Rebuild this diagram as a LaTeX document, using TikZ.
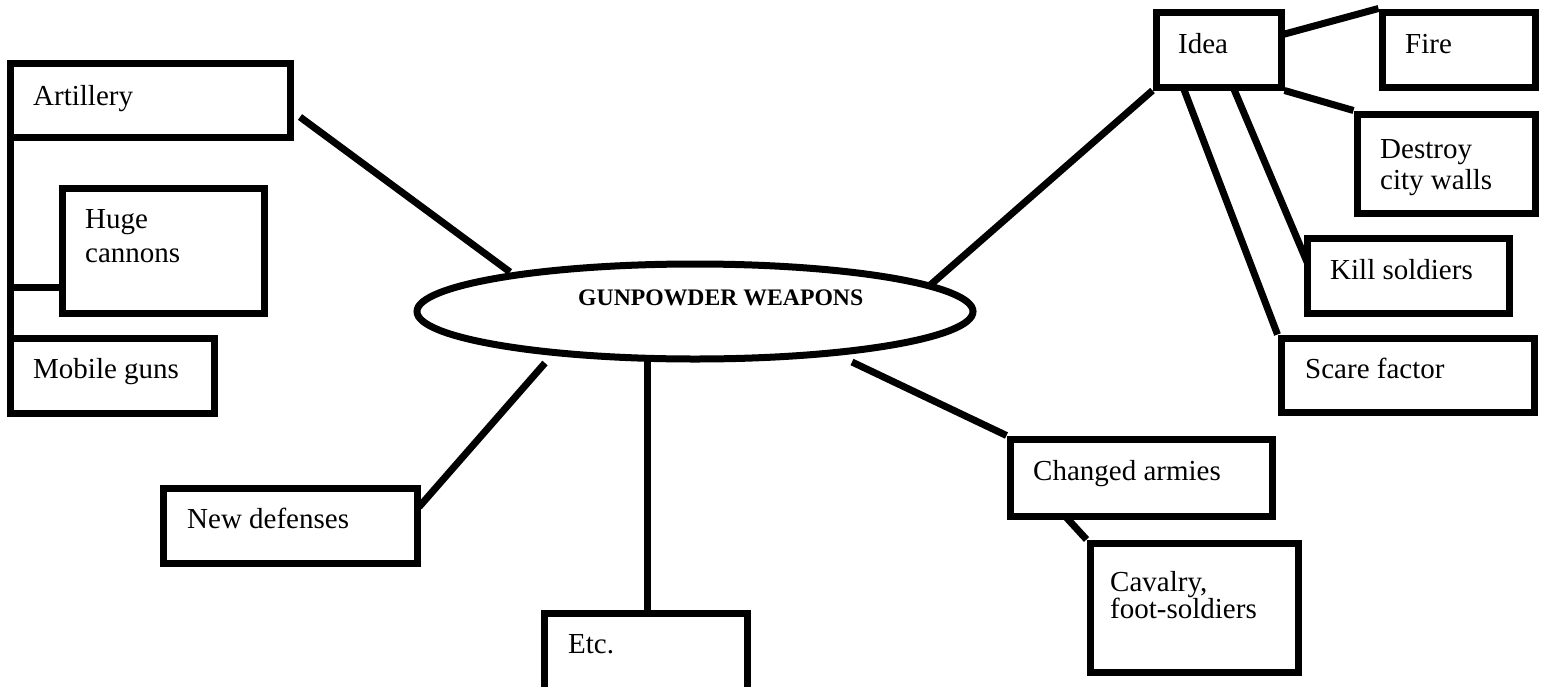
\documentclass[tikz,border=0pt]{standalone}
\usepackage{fontspec}
\setmainfont{Liberation Serif}
\usetikzlibrary{shapes.geometric}
\tikzset{
  box/.style={draw=black, line width=7pt, rectangle, inner sep=0pt, fill=white, line join=miter},
  conn/.style={draw=black, line width=7pt, line cap=butt},
  lbl/.style={inner sep=0pt, anchor=base west, font=\fontsize{29}{33}\selectfont},
  title/.style={inner sep=0pt, anchor=base west, font=\fontsize{23.7}{27}\selectfont\bfseries},
}
\begin{document}
\begin{tikzpicture}[x=1pt, y=-1pt]
\useasboundingbox (0,0) rectangle (1544,686);
\clip (0,0) rectangle (1544,686);
\fill[white] (0,0) rectangle (1544,686);

% connector end points
\coordinate (artEnd) at (300,117);
\coordinate (gpA) at (510,272);
\coordinate (gpN) at (545,363);
\coordinate (ndEnd) at (419,507);
\coordinate (gpE) at (647,360);
\coordinate (etcTop) at (647,613);
\coordinate (gpC) at (852,362);
\coordinate (gpI) at (928,287);
\coordinate (ideaR) at (1281,35);
\coordinate (ideaK) at (1233,87);
\coordinate (ideaS) at (1183,87);
\coordinate (killEnd) at (1307,262);
\coordinate (chB) at (1065,516);
\coordinate (vTop) at (10.5,137);
\coordinate (vBot) at (10.5,338);
\coordinate (vMid) at (10.5,287);
\coordinate (hugeL) at (62,287);

% connectors
\draw[conn] (artEnd) -- (gpA);
\draw[conn] (ndEnd) -- (gpN);
\draw[conn] (gpE) -- (etcTop);
\draw[conn] (vTop) -- (vBot);
\draw[conn] (vMid) -- (hugeL);

% central ellipse
\node[ellipse, draw=black, line width=7pt, fill=white, minimum width=556pt, minimum height=95pt, inner sep=0pt] (gp) at (695,311.5) {};
\node[title] (gpT) at (578,305) {GUNPOWDER WEAPONS};

% left boxes
\node[box, minimum width=279.5pt, minimum height=74pt] (art) at (150.25,100) {};
\node[lbl] (artT) at (33,105) {Artillery};
\node[box, minimum width=202pt, minimum height=125pt] (huge) at (163,250.5) {};
\node[lbl] (hugeT1) at (85,228) {Huge};
\node[lbl] (hugeT2) at (85,262) {cannons};
\node[box, minimum width=203.5pt, minimum height=75pt] (mob) at (112.25,375.5) {};
\node[lbl] (mobT) at (33,378) {Mobile guns};

\node[box, minimum width=254pt, minimum height=75pt] (newd) at (290,525.5) {};
\node[lbl] (newdT) at (187,528) {New defenses};

\node[box, minimum width=203pt, minimum height=87pt] (etc) at (646,656.5) {};
\node[lbl] (etcT) at (568,653) {Etc.};

% right boxes
\node[box, minimum width=125pt, minimum height=75pt] (idea) at (1218.5,49.5) {};
\node[lbl] (ideaT) at (1178,53) {Idea};
\node[box, minimum width=153pt, minimum height=75pt] (fire) at (1458.5,49.5) {};
\node[lbl] (fireT) at (1405,53) {Fire};
\node[box, minimum width=178pt, minimum height=99pt] (dest) at (1446,163.5) {};
\node[lbl] (destT1) at (1380,158) {Destroy};
\node[lbl] (destT2) at (1380,189) {city walls};
\node[box, minimum width=202pt, minimum height=75pt] (kill) at (1408,275.5) {};
\node[lbl] (killT) at (1330,279) {Kill soldiers};
\node[box, minimum width=253pt, minimum height=74pt] (scare) at (1407.5,375) {};
\node[lbl] (scareT) at (1305,378) {Scare factor};

\node[box, minimum width=262pt, minimum height=77pt] (ch) at (1141,477.5) {};
\node[lbl] (chT) at (1033,480) {Changed armies};
\node[box, minimum width=208pt, minimum height=129pt] (cav) at (1194,607.5) {};
\node[lbl] (cavT1) at (1110,591) {Cavalry,};
\node[lbl] (cavT2) at (1110,618) {foot-soldiers};

% connectors touching boxes
\draw[conn] (gpI) -- (idea.south west);
\draw[conn] (ideaR) -- (fire.north west);
\draw[conn] (idea.south east) -- (dest.north west);
\draw[conn] (ideaK) -- (killEnd);
\draw[conn] (ideaS) -- (scare.north west);
\draw[conn] (gpC) -- (ch.north west);
\draw[conn] (chB) -- (cav.north west);
\end{tikzpicture}
\end{document}
